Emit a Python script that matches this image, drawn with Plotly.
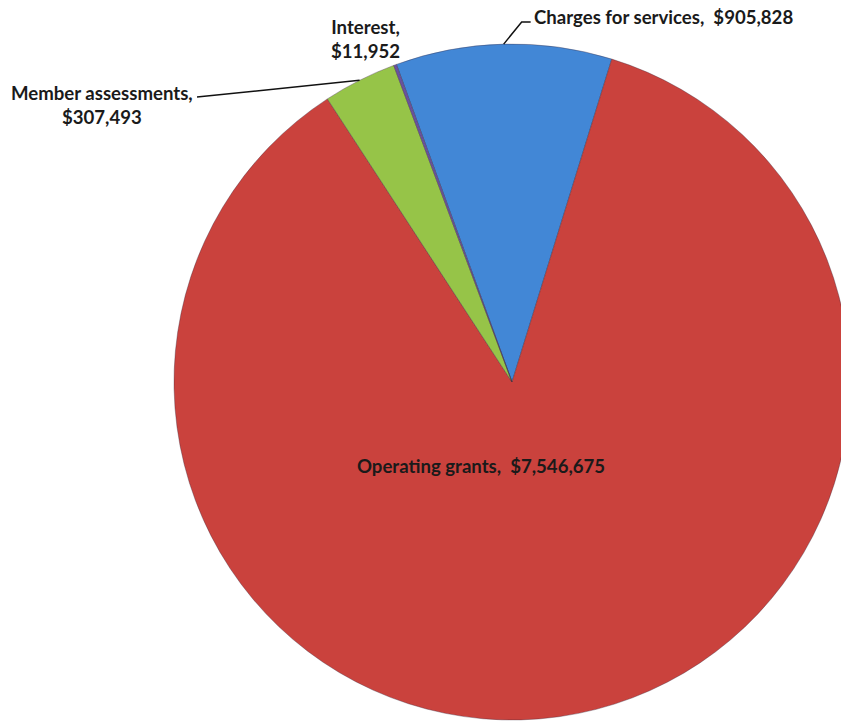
import math
import plotly.graph_objects as go

# ---- data ----
categories = ["Charges for services", "Operating grants", "Member assessments", "Interest"]
values = [905828, 7546675, 307493, 11952]
value_labels = ["$905,828", "$7,546,675", "$307,493", "$11,952"]
colors = ["#4287D6", "#CA423D", "#96C448", "#6A52A0"]

# ---- layout geometry (pixels) ----
W, H = 860, 724
CX, CY, R = 512, 382, 338
ROTATION = -20.0
FONT = "Lato"
FS = 18.6


def px(x):
    return x / W


def py(y):
    return 1 - y / H


total = sum(values)


def anchor(i, rr=R):
    start = ROTATION + 360 * sum(values[:i]) / total
    mid = start + 180 * values[i] / total
    a = math.radians(mid)
    return CX + rr * math.sin(a), CY - rr * math.cos(a)


fig = go.Figure(go.Pie(
    labels=categories,
    values=values,
    sort=False,
    direction="clockwise",
    rotation=ROTATION,
    marker=dict(colors=colors, line=dict(width=0.6, color="rgba(60,40,60,0.6)")),
    textinfo="none",
    hoverinfo="label+value",
    showlegend=False,
    domain=dict(x=[px(CX - R), px(CX + R)], y=[py(CY + R), py(CY - R)]),
))

annotations = []
shapes = []
tfont = dict(family=FONT, size=FS, color="#1a1a1a")
SP = "&nbsp;&nbsp;"

# Charges for services: elbow leader
ax, ay = anchor(0)
ex, ey = ax + 18, ay - 22
hx = ex + 9
shapes.append(dict(type="path", xref="paper", yref="paper",
                   path=f"M {px(ax)} {py(ay)} L {px(ex)} {py(ey)} L {px(hx)} {py(ey)}",
                   line=dict(color="#111", width=1.5)))
annotations.append(dict(x=px(hx + 1), y=py(ey - 5), xref="paper", yref="paper",
                        text=f"<b>{categories[0]},{SP}{value_labels[0]}</b>", showarrow=False,
                        xanchor="left", yanchor="middle", font=tfont))

# Operating grants: inside label
annotations.append(dict(x=px(481), y=py(466), xref="paper", yref="paper",
                        text=f"<b>{categories[1]},{SP}{value_labels[1]}</b>", showarrow=False,
                        xanchor="center", yanchor="middle", font=tfont))

# Member assessments: straight leader
ax, ay = anchor(2)
lx, ly = 197, 97
shapes.append(dict(type="line", xref="paper", yref="paper",
                   x0=px(ax), y0=py(ay), x1=px(lx), y1=py(ly),
                   line=dict(color="#111", width=1.5)))
annotations.append(dict(x=px(102), y=py(105), xref="paper", yref="paper",
                        text=f"<b>{categories[2]},<br>{value_labels[2]}</b>", showarrow=False,
                        xanchor="center", yanchor="middle", align="center", font=tfont))

# Interest
annotations.append(dict(x=px(365), y=py(39), xref="paper", yref="paper",
                        text=f"<b>{categories[3]},<br>{value_labels[3]}</b>", showarrow=False,
                        xanchor="center", yanchor="middle", align="center", font=tfont))

fig.update_layout(
    width=W, height=H,
    margin=dict(l=0, r=0, t=0, b=0),
    paper_bgcolor="white", plot_bgcolor="white",
    annotations=annotations, shapes=shapes,
)

fig.write_html("out.html", post_script="document.documentElement.style.overflow='hidden';document.body.style.overflow='hidden';")
